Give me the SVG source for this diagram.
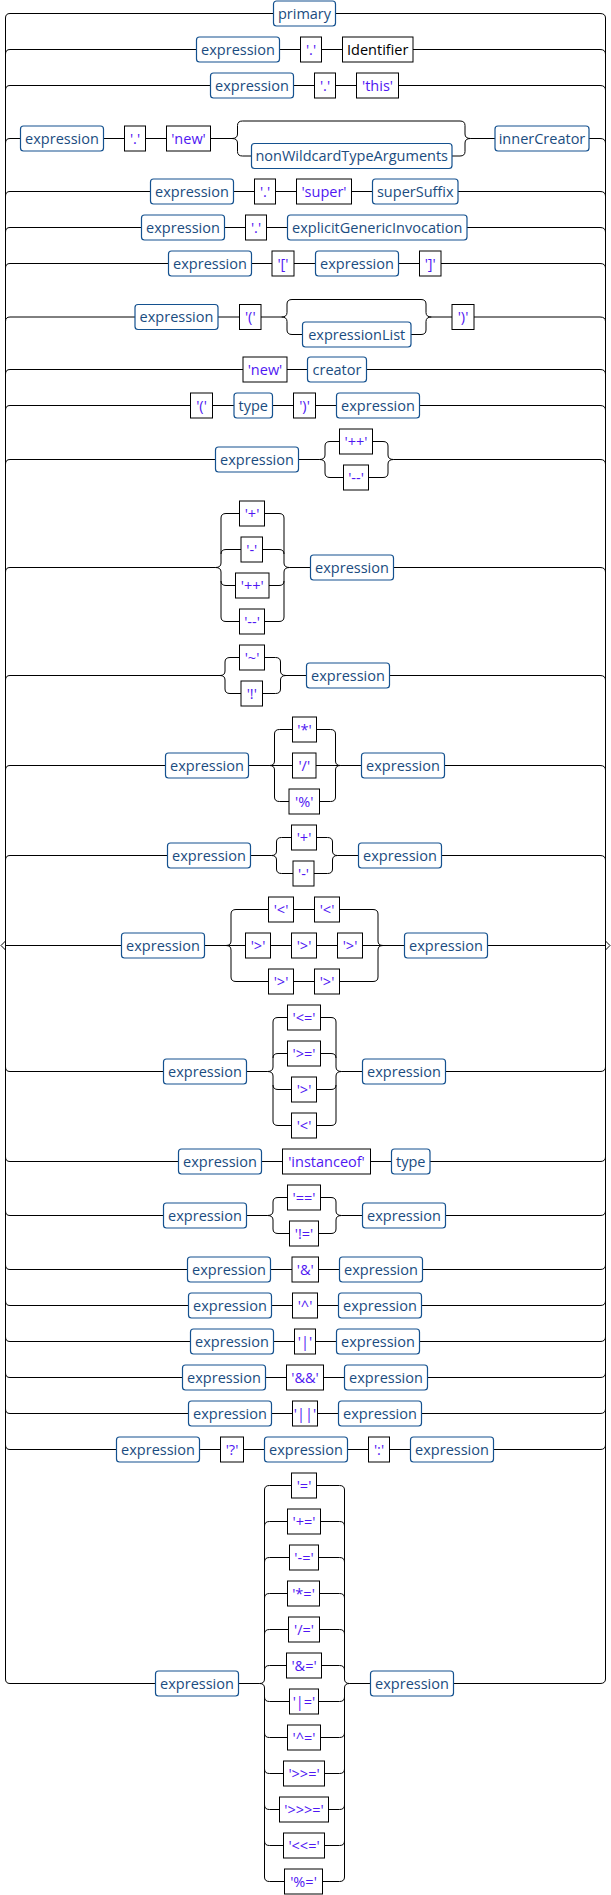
<svg xmlns="http://www.w3.org/2000/svg" width="611" height="1895" viewBox="0 0 611 1895">
<style>
.l{fill:none;stroke:#000;stroke-width:1}
.n rect{fill:#fff;stroke:#14518f;stroke-width:1.2}
.t rect,.k rect{fill:#fff;stroke:#000;stroke-width:1}
text{font-family:"Open Sans","Liberation Sans",sans-serif;font-size:14.5px;text-anchor:middle}
.n text{fill:#1a4c80}
.t text{fill:#4f17f2}
.k text{fill:#000}
</style>
<rect width="611" height="1895" fill="#fff"/>
<g id="connectors" class="l">
<path d="M5.5,18 V1679 M605.5,18 V1679"/>
<path d="M5.5,941 L1,945.5 L5.5,950 M605.5,941 L610,945.5 L605.5,950"/>
<path d="M5.5,18 Q5.5,13.5 10,13.5 H273.5 M335.5,13.5 H600 Q605.5,13.5 605.5,18"/>
<path d="M5.5,54 Q5.5,49.5 10,49.5 H196.5 M279.5,49.5 H300.5 M321.5,49.5 H342.5 M413,49.5 H600 Q605.5,49.5 605.5,54"/>
<path d="M5.5,90 Q5.5,85.5 10,85.5 H210.5 M293.5,85.5 H314.5 M335.5,85.5 H356.5 M398.5,85.5 H600 Q605.5,85.5 605.5,90"/>
<path d="M5.5,143 Q5.5,138.5 10,138.5 H20.5 M103.5,138.5 H124.5 M145.5,138.5 H166.5 M210.5,138.5 H232 M470.5,138.5 H495 M589,138.5 H600 Q605.5,138.5 605.5,143"/>
<path d="M232,138.5 Q237.5,138.5 237.5,134 V125.5 Q237.5,121 242.5,121 H460 Q465,121 465,125.5 V134 Q465,138.5 470.5,138.5"/>
<path d="M232,138.5 Q237.5,138.5 237.5,143 V151.5 Q237.5,156 242.5,156 H251.5 M452,156 H460 Q465,156 465,151.5 V143 Q465,138.5 470.5,138.5"/>
<path d="M5.5,196 Q5.5,191.5 10,191.5 H150.5 M233.5,191.5 H254.5 M275.5,191.5 H296.5 M351.5,191.5 H372.5 M458,191.5 H600 Q605.5,191.5 605.5,196"/>
<path d="M5.5,232 Q5.5,227.5 10,227.5 H141.5 M224.5,227.5 H245.5 M266.5,227.5 H287.5 M467,227.5 H600 Q605.5,227.5 605.5,232"/>
<path d="M5.5,268 Q5.5,263.5 10,263.5 H168.5 M251.5,263.5 H272 M294,263.5 H315.5 M398.5,263.5 H419.5 M441,263.5 H600 Q605.5,263.5 605.5,268"/>
<path d="M5.5,321.5 Q5.5,317 10,317 H135 M218,317 H239.5 M261,317 H281.5 M431.5,317 H452 M474,317 H600 Q605.5,317 605.5,321.5"/>
<path d="M281.5,317 Q287,317 287,312.5 V304 Q287,299.5 292,299.5 H421 Q426,299.5 426,304 V312.5 Q426,317 431.5,317"/>
<path d="M281.5,317 Q287,317 287,321.5 V330 Q287,334.5 292,334.5 H302.5 M411,334.5 H421 Q426,334.5 426,330 V321.5 Q426,317 431.5,317"/>
<path d="M5.5,374 Q5.5,369.5 10,369.5 H243 M287,369.5 H307.5 M366.5,369.5 H600 Q605.5,369.5 605.5,374"/>
<path d="M5.5,410 Q5.5,405.5 10,405.5 H190.5 M212.5,405.5 H234 M272.5,405.5 H293.5 M315.5,405.5 H336.5 M419.5,405.5 H600 Q605.5,405.5 605.5,410"/>
<path d="M5.5,464 Q5.5,459.5 10,459.5 H215.5 M298.5,459.5 H319.5 M393.5,459.5 H600 Q605.5,459.5 605.5,464"/>
<path d="M319.5,459.5 Q325,459.5 325,455 V446 Q325,441.5 330,441.5 H339.5 M372.5,441.5 H383 Q388,441.5 388,446 V455 Q388,459.5 393.5,459.5"/>
<path d="M319.5,459.5 Q325,459.5 325,464 V473 Q325,477.5 330,477.5 H343.5 M368.5,477.5 H383 Q388,477.5 388,473 V464 Q388,459.5 393.5,459.5"/>
<path d="M5.5,572 Q5.5,567.5 10,567.5 H215.5 M289.5,567.5 H310.5 M393.5,567.5 H600 Q605.5,567.5 605.5,572"/>
<path d="M215.5,567.5 Q221,567.5 221,563 V518 Q221,513.5 226,513.5 H239.5 M264.5,513.5 H279 Q284,513.5 284,518 V563 Q284,567.5 289.5,567.5"/>
<path d="M221,554 Q221,549.5 226,549.5 H241 M262.5,549.5 H279 Q284,549.5 284,554"/>
<path d="M215.5,567.5 Q221,567.5 221,572 V581 Q221,585.5 226,585.5 H235.5 M269,585.5 H279 Q284,585.5 284,581 V572 Q284,567.5 289.5,567.5"/>
<path d="M221,581 V617 Q221,621.5 226,621.5 H239.5 M264.5,621.5 H279 Q284,621.5 284,617 V581"/>
<path d="M5.5,680 Q5.5,675.5 10,675.5 H220 M286,675.5 H306.5 M389.5,675.5 H600 Q605.5,675.5 605.5,680"/>
<path d="M220,675.5 Q225,675.5 225,671 V662 Q225,657.5 230,657.5 H239.5 M264.5,657.5 H275.5 Q280.5,657.5 280.5,662 V671 Q280.5,675.5 286,675.5"/>
<path d="M220,675.5 Q225,675.5 225,680 V689 Q225,693.5 230,693.5 H241 M262.5,693.5 H275.5 Q280.5,693.5 280.5,689 V680 Q280.5,675.5 286,675.5"/>
<path d="M5.5,770 Q5.5,765.5 10,765.5 H165.5 M248.5,765.5 H269.5 M340.5,765.5 H361.5 M444.5,765.5 H600 Q605.5,765.5 605.5,770"/>
<path d="M269.5,765.5 Q274.5,765.5 274.5,761 V734 Q274.5,729.5 279.5,729.5 H292.5 M316.5,729.5 H330.5 Q335.5,729.5 335.5,734 V761 Q335.5,765.5 340.5,765.5"/>
<path d="M269.5,765.5 H292.5 M316,765.5 H340.5"/>
<path d="M269.5,765.5 Q274.5,765.5 274.5,770 V797 Q274.5,801.5 279.5,801.5 H289 M319.5,801.5 H330.5 Q335.5,801.5 335.5,797 V770 Q335.5,765.5 340.5,765.5"/>
<path d="M5.5,860 Q5.5,855.5 10,855.5 H167.5 M250.5,855.5 H271.5 M337.5,855.5 H358.5 M441.5,855.5 H600 Q605.5,855.5 605.5,860"/>
<path d="M271.5,855.5 Q276.5,855.5 276.5,851 V842 Q276.5,837.5 281.5,837.5 H291.5 M316.5,837.5 H327.5 Q332.5,837.5 332.5,842 V851 Q332.5,855.5 337.5,855.5"/>
<path d="M271.5,855.5 Q276.5,855.5 276.5,860 V869 Q276.5,873.5 281.5,873.5 H293 M314,873.5 H327.5 Q332.5,873.5 332.5,869 V860 Q332.5,855.5 337.5,855.5"/>
<path d="M5.5,945.5 H121.5 M204.5,945.5 H226 M383,945.5 H404.5 M487.5,945.5 H605.5"/>
<path d="M226,945.5 Q231,945.5 231,941 V914 Q231,909.5 236,909.5 H268.5 M293.5,909.5 H314.5 M339.5,909.5 H373 Q378,909.5 378,914 V941 Q378,945.5 383,945.5"/>
<path d="M226,945.5 H245.5 M270.5,945.5 H291.5 M316.5,945.5 H337.5 M362.5,945.5 H383"/>
<path d="M226,945.5 Q231,945.5 231,950 V977 Q231,981.5 236,981.5 H268.5 M293.5,981.5 H314.5 M339.5,981.5 H373 Q378,981.5 378,977 V950 Q378,945.5 383,945.5"/>
<path d="M5.5,1067 Q5.5,1071.5 10,1071.5 H163.5 M246.5,1071.5 H267.5 M341.5,1071.5 H362.5 M445.5,1071.5 H600 Q605.5,1071.5 605.5,1067"/>
<path d="M267.5,1071.5 Q273,1071.5 273,1067 V1022 Q273,1017.5 278,1017.5 H287.5 M320.5,1017.5 H331 Q336,1017.5 336,1022 V1067 Q336,1071.5 341.5,1071.5"/>
<path d="M273,1058 Q273,1053.5 278,1053.5 H287.5 M320.5,1053.5 H331 Q336,1053.5 336,1058"/>
<path d="M267.5,1071.5 Q273,1071.5 273,1076 V1085 Q273,1089.5 278,1089.5 H291.5 M316.5,1089.5 H331 Q336,1089.5 336,1085 V1076 Q336,1071.5 341.5,1071.5"/>
<path d="M273,1085 V1121 Q273,1125.5 278,1125.5 H291.5 M316.5,1125.5 H331 Q336,1125.5 336,1121 V1085"/>
<path d="M5.5,1157 Q5.5,1161.5 10,1161.5 H178.5 M261.5,1161.5 H282.5 M370.5,1161.5 H391.5 M430,1161.5 H600 Q605.5,1161.5 605.5,1157"/>
<path d="M5.5,1211 Q5.5,1215.5 10,1215.5 H163.5 M246.5,1215.5 H267.5 M341.5,1215.5 H362.5 M445.5,1215.5 H600 Q605.5,1215.5 605.5,1211"/>
<path d="M267.5,1215.5 Q273,1215.5 273,1211 V1202 Q273,1197.5 278,1197.5 H287.5 M320.5,1197.5 H331 Q336,1197.5 336,1202 V1211 Q336,1215.5 341.5,1215.5"/>
<path d="M267.5,1215.5 Q273,1215.5 273,1220 V1229 Q273,1233.5 278,1233.5 H289.5 M318.5,1233.5 H331 Q336,1233.5 336,1229 V1220 Q336,1215.5 341.5,1215.5"/>
<path d="M5.5,1265 Q5.5,1269.5 10,1269.5 H187.5 M270.5,1269.5 H292 M318.5,1269.5 H339.5 M422.5,1269.5 H600 Q605.5,1269.5 605.5,1265"/>
<path d="M5.5,1301 Q5.5,1305.5 10,1305.5 H188.5 M271.5,1305.5 H292.5 M317.5,1305.5 H338.5 M421.5,1305.5 H600 Q605.5,1305.5 605.5,1301"/>
<path d="M5.5,1337 Q5.5,1341.5 10,1341.5 H190.5 M273.5,1341.5 H294.5 M315.5,1341.5 H336.5 M419.5,1341.5 H600 Q605.5,1341.5 605.5,1337"/>
<path d="M5.5,1373 Q5.5,1377.5 10,1377.5 H182.5 M265.5,1377.5 H286.5 M323.5,1377.5 H344.5 M427.5,1377.5 H600 Q605.5,1377.5 605.5,1373"/>
<path d="M5.5,1409 Q5.5,1413.5 10,1413.5 H188.5 M271.5,1413.5 H292.5 M317.5,1413.5 H338.5 M421.5,1413.5 H600 Q605.5,1413.5 605.5,1409"/>
<path d="M5.5,1445 Q5.5,1449.5 10,1449.5 H116.5 M199.5,1449.5 H220.5 M243.5,1449.5 H264.5 M347.5,1449.5 H368.5 M389.5,1449.5 H410.5 M493.5,1449.5 H600 Q605.5,1449.5 605.5,1445"/>
<path d="M5.5,1679 Q5.5,1683.5 10,1683.5 H155.5 M238.5,1683.5 H259.5 M349.5,1683.5 H370.5 M453.5,1683.5 H600 Q605.5,1683.5 605.5,1679"/>
<path d="M259.5,1683.5 Q264.5,1683.5 264.5,1679 V1490 Q264.5,1485.5 269.5,1485.5 H291.5 M316.5,1485.5 H339.5 Q344.5,1485.5 344.5,1490 V1679 Q344.5,1683.5 349.5,1683.5"/>
<path d="M259.5,1683.5 Q264.5,1683.5 264.5,1688 V1877 Q264.5,1881.5 269.5,1881.5 H284.5 M322.5,1881.5 H339.5 Q344.5,1881.5 344.5,1877 V1688 Q344.5,1683.5 349.5,1683.5"/>
<path d="M264.5,1526 Q264.5,1521.5 269.5,1521.5 H287.5 M320.5,1521.5 H339.5 Q344.5,1521.5 344.5,1526"/>
<path d="M264.5,1562 Q264.5,1557.5 269.5,1557.5 H289.5 M318.5,1557.5 H339.5 Q344.5,1557.5 344.5,1562"/>
<path d="M264.5,1598 Q264.5,1593.5 269.5,1593.5 H287.5 M319.5,1593.5 H339.5 Q344.5,1593.5 344.5,1598"/>
<path d="M264.5,1634 Q264.5,1629.5 269.5,1629.5 H288.5 M319.5,1629.5 H339.5 Q344.5,1629.5 344.5,1634"/>
<path d="M264.5,1670 Q264.5,1665.5 269.5,1665.5 H286.5 M321.5,1665.5 H339.5 Q344.5,1665.5 344.5,1670"/>
<path d="M264.5,1697 Q264.5,1701.5 269.5,1701.5 H289.5 M318.5,1701.5 H339.5 Q344.5,1701.5 344.5,1697"/>
<path d="M264.5,1733 Q264.5,1737.5 269.5,1737.5 H287.5 M320.5,1737.5 H339.5 Q344.5,1737.5 344.5,1733"/>
<path d="M264.5,1769 Q264.5,1773.5 269.5,1773.5 H283.5 M324.5,1773.5 H339.5 Q344.5,1773.5 344.5,1769"/>
<path d="M264.5,1805 Q264.5,1809.5 269.5,1809.5 H279.5 M328.5,1809.5 H339.5 Q344.5,1809.5 344.5,1805"/>
<path d="M264.5,1841 Q264.5,1845.5 269.5,1845.5 H283.5 M324.5,1845.5 H339.5 Q344.5,1845.5 344.5,1841"/>
</g>
<g id="r1-primary" class="n"><rect x="273.5" y="1" width="62" height="25" rx="3"/><text x="304.5" y="18.5">primary</text></g>
<g id="r2-expression" class="n"><rect x="196.5" y="37" width="83" height="25" rx="3"/><text x="238" y="54.5">expression</text></g>
<g id="r2-dot" class="t"><rect x="300.5" y="37" width="21" height="25"/><text x="311" y="54.5">'.'</text></g>
<g id="r2-identifier" class="k"><rect x="342.5" y="37" width="70.5" height="25"/><text x="377.75" y="54.5">Identifier</text></g>
<g id="r3-expression" class="n"><rect x="210.5" y="73" width="83" height="25" rx="3"/><text x="252" y="90.5">expression</text></g>
<g id="r3-dot" class="t"><rect x="314.5" y="73" width="21" height="25"/><text x="325" y="90.5">'.'</text></g>
<g id="r3-this" class="t"><rect x="356.5" y="73" width="42" height="25"/><text x="377.5" y="90.5">'this'</text></g>
<g id="r4-expression" class="n"><rect x="20.5" y="126" width="83" height="25" rx="3"/><text x="62" y="143.5">expression</text></g>
<g id="r4-dot" class="t"><rect x="124.5" y="126" width="21" height="25"/><text x="135" y="143.5">'.'</text></g>
<g id="r4-new" class="t"><rect x="166.5" y="126" width="44" height="25"/><text x="188.5" y="143.5">'new'</text></g>
<g id="r4-nonWildcardTypeArguments" class="n"><rect x="251.5" y="143.5" width="200.5" height="25" rx="3"/><text x="351.75" y="161">nonWildcardTypeArguments</text></g>
<g id="r4-innerCreator" class="n"><rect x="495" y="126" width="94" height="25" rx="3"/><text x="542" y="143.5">innerCreator</text></g>
<g id="r5-expression" class="n"><rect x="150.5" y="179" width="83" height="25" rx="3"/><text x="192" y="196.5">expression</text></g>
<g id="r5-dot" class="t"><rect x="254.5" y="179" width="21" height="25"/><text x="265" y="196.5">'.'</text></g>
<g id="r5-super" class="t"><rect x="296.5" y="179" width="55" height="25"/><text x="324" y="196.5">'super'</text></g>
<g id="r5-superSuffix" class="n"><rect x="372.5" y="179" width="85.5" height="25" rx="3"/><text x="415.25" y="196.5">superSuffix</text></g>
<g id="r6-expression" class="n"><rect x="141.5" y="215" width="83" height="25" rx="3"/><text x="183" y="232.5">expression</text></g>
<g id="r6-dot" class="t"><rect x="245.5" y="215" width="21" height="25"/><text x="256" y="232.5">'.'</text></g>
<g id="r6-explicitGenericInvocation" class="n"><rect x="287.5" y="215" width="179.5" height="25" rx="3"/><text x="377.25" y="232.5">explicitGenericInvocation</text></g>
<g id="r7-expression" class="n"><rect x="168.5" y="251" width="83" height="25" rx="3"/><text x="210" y="268.5">expression</text></g>
<g id="r7-lbracket" class="t"><rect x="272" y="251" width="22" height="25"/><text x="283" y="268.5">'['</text></g>
<g id="r7-expression2" class="n"><rect x="315.5" y="251" width="83" height="25" rx="3"/><text x="357" y="268.5">expression</text></g>
<g id="r7-rbracket" class="t"><rect x="419.5" y="251" width="21.5" height="25"/><text x="430.25" y="268.5">']'</text></g>
<g id="r8-expression" class="n"><rect x="135" y="304.5" width="83" height="25" rx="3"/><text x="176.5" y="322">expression</text></g>
<g id="r8-lparen" class="t"><rect x="239.5" y="304.5" width="21.5" height="25"/><text x="250.25" y="322">'('</text></g>
<g id="r8-expressionList" class="n"><rect x="302.5" y="322" width="108.5" height="25" rx="3"/><text x="356.75" y="339.5">expressionList</text></g>
<g id="r8-rparen" class="t"><rect x="452" y="304.5" width="22" height="25"/><text x="463" y="322">')'</text></g>
<g id="r9-new" class="t"><rect x="243" y="357" width="44" height="25"/><text x="265" y="374.5">'new'</text></g>
<g id="r9-creator" class="n"><rect x="307.5" y="357" width="59" height="25" rx="3"/><text x="337" y="374.5">creator</text></g>
<g id="r10-lparen" class="t"><rect x="190.5" y="393" width="22" height="25"/><text x="201.5" y="410.5">'('</text></g>
<g id="r10-type" class="n"><rect x="234" y="393" width="38.5" height="25" rx="3"/><text x="253.25" y="410.5">type</text></g>
<g id="r10-rparen" class="t"><rect x="293.5" y="393" width="22" height="25"/><text x="304.5" y="410.5">')'</text></g>
<g id="r10-expression" class="n"><rect x="336.5" y="393" width="83" height="25" rx="3"/><text x="378" y="410.5">expression</text></g>
<g id="r11-expression" class="n"><rect x="215.5" y="447" width="83" height="25" rx="3"/><text x="257" y="464.5">expression</text></g>
<g id="r11-incr" class="t"><rect x="339.5" y="429" width="33" height="25"/><text x="356" y="446.5">'++'</text></g>
<g id="r11-decr" class="t"><rect x="343.5" y="465" width="25" height="25"/><text x="356" y="482.5">'--'</text></g>
<g id="r12-plus" class="t"><rect x="239.5" y="501" width="25" height="25"/><text x="252" y="518.5">'+'</text></g>
<g id="r12-minus" class="t"><rect x="241" y="537" width="21.5" height="25"/><text x="251.75" y="554.5">'-'</text></g>
<g id="r12-incr" class="t"><rect x="235.5" y="573" width="33.5" height="25"/><text x="252.25" y="590.5">'++'</text></g>
<g id="r12-decr" class="t"><rect x="239.5" y="609" width="25" height="25"/><text x="252" y="626.5">'--'</text></g>
<g id="r12-expression" class="n"><rect x="310.5" y="555" width="83" height="25" rx="3"/><text x="352" y="572.5">expression</text></g>
<g id="r13-tilde" class="t"><rect x="239.5" y="645" width="25" height="25"/><text x="252" y="662.5">'~'</text></g>
<g id="r13-bang" class="t"><rect x="241" y="681" width="21.5" height="25"/><text x="251.75" y="698.5">'!'</text></g>
<g id="r13-expression" class="n"><rect x="306.5" y="663" width="83" height="25" rx="3"/><text x="348" y="680.5">expression</text></g>
<g id="r14-expression" class="n"><rect x="165.5" y="753" width="83" height="25" rx="3"/><text x="207" y="770.5">expression</text></g>
<g id="r14-star" class="t"><rect x="292.5" y="717" width="24" height="25"/><text x="304.5" y="734.5">'*'</text></g>
<g id="r14-slash" class="t"><rect x="292.5" y="753" width="23.5" height="25"/><text x="304.25" y="770.5">'/'</text></g>
<g id="r14-percent" class="t"><rect x="289" y="789" width="30.5" height="25"/><text x="304.25" y="806.5">'%'</text></g>
<g id="r14-expression2" class="n"><rect x="361.5" y="753" width="83" height="25" rx="3"/><text x="403" y="770.5">expression</text></g>
<g id="r15-expression" class="n"><rect x="167.5" y="843" width="83" height="25" rx="3"/><text x="209" y="860.5">expression</text></g>
<g id="r15-plus" class="t"><rect x="291.5" y="825" width="25" height="25"/><text x="304" y="842.5">'+'</text></g>
<g id="r15-minus" class="t"><rect x="293" y="861" width="21" height="25"/><text x="303.5" y="878.5">'-'</text></g>
<g id="r15-expression2" class="n"><rect x="358.5" y="843" width="83" height="25" rx="3"/><text x="400" y="860.5">expression</text></g>
<g id="r16-expression" class="n"><rect x="121.5" y="933" width="83" height="25" rx="3"/><text x="163" y="950.5">expression</text></g>
<g id="r16-lt1" class="t"><rect x="268.5" y="897" width="25" height="25"/><text x="281" y="914.5">'&lt;'</text></g>
<g id="r16-lt2" class="t"><rect x="314.5" y="897" width="25" height="25"/><text x="327" y="914.5">'&lt;'</text></g>
<g id="r16-gt1" class="t"><rect x="245.5" y="933" width="25" height="25"/><text x="258" y="950.5">'&gt;'</text></g>
<g id="r16-gt2" class="t"><rect x="291.5" y="933" width="25" height="25"/><text x="304" y="950.5">'&gt;'</text></g>
<g id="r16-gt3" class="t"><rect x="337.5" y="933" width="25" height="25"/><text x="350" y="950.5">'&gt;'</text></g>
<g id="r16-gt4" class="t"><rect x="268.5" y="969" width="25" height="25"/><text x="281" y="986.5">'&gt;'</text></g>
<g id="r16-gt5" class="t"><rect x="314.5" y="969" width="25" height="25"/><text x="327" y="986.5">'&gt;'</text></g>
<g id="r16-expression2" class="n"><rect x="404.5" y="933" width="83" height="25" rx="3"/><text x="446" y="950.5">expression</text></g>
<g id="r17-expression" class="n"><rect x="163.5" y="1059" width="83" height="25" rx="3"/><text x="205" y="1076.5">expression</text></g>
<g id="r17-le" class="t"><rect x="287.5" y="1005" width="33" height="25"/><text x="304" y="1022.5">'&lt;='</text></g>
<g id="r17-ge" class="t"><rect x="287.5" y="1041" width="33" height="25"/><text x="304" y="1058.5">'&gt;='</text></g>
<g id="r17-gt" class="t"><rect x="291.5" y="1077" width="25" height="25"/><text x="304" y="1094.5">'&gt;'</text></g>
<g id="r17-lt" class="t"><rect x="291.5" y="1113" width="25" height="25"/><text x="304" y="1130.5">'&lt;'</text></g>
<g id="r17-expression2" class="n"><rect x="362.5" y="1059" width="83" height="25" rx="3"/><text x="404" y="1076.5">expression</text></g>
<g id="r18-expression" class="n"><rect x="178.5" y="1149" width="83" height="25" rx="3"/><text x="220" y="1166.5">expression</text></g>
<g id="r18-instanceof" class="t"><rect x="282.5" y="1149" width="88" height="25"/><text x="326.5" y="1166.5">'instanceof'</text></g>
<g id="r18-type" class="n"><rect x="391.5" y="1149" width="38.5" height="25" rx="3"/><text x="410.75" y="1166.5">type</text></g>
<g id="r19-expression" class="n"><rect x="163.5" y="1203" width="83" height="25" rx="3"/><text x="205" y="1220.5">expression</text></g>
<g id="r19-eq" class="t"><rect x="287.5" y="1185" width="33" height="25"/><text x="304" y="1202.5">'=='</text></g>
<g id="r19-ne" class="t"><rect x="289.5" y="1221" width="29" height="25"/><text x="304" y="1238.5">'!='</text></g>
<g id="r19-expression2" class="n"><rect x="362.5" y="1203" width="83" height="25" rx="3"/><text x="404" y="1220.5">expression</text></g>
<g id="r20-expression" class="n"><rect x="187.5" y="1257" width="83" height="25" rx="3"/><text x="229" y="1274.5">expression</text></g>
<g id="r20-and" class="t"><rect x="292" y="1257" width="26.5" height="25"/><text x="305.25" y="1274.5">'&amp;'</text></g>
<g id="r20-expression2" class="n"><rect x="339.5" y="1257" width="83" height="25" rx="3"/><text x="381" y="1274.5">expression</text></g>
<g id="r21-expression" class="n"><rect x="188.5" y="1293" width="83" height="25" rx="3"/><text x="230" y="1310.5">expression</text></g>
<g id="r21-xor" class="t"><rect x="292.5" y="1293" width="25" height="25"/><text x="305" y="1310.5">'^'</text></g>
<g id="r21-expression2" class="n"><rect x="338.5" y="1293" width="83" height="25" rx="3"/><text x="380" y="1310.5">expression</text></g>
<g id="r22-expression" class="n"><rect x="190.5" y="1329" width="83" height="25" rx="3"/><text x="232" y="1346.5">expression</text></g>
<g id="r22-or" class="t"><rect x="294.5" y="1329" width="21" height="25"/><text x="305" y="1346.5">'|'</text></g>
<g id="r22-expression2" class="n"><rect x="336.5" y="1329" width="83" height="25" rx="3"/><text x="378" y="1346.5">expression</text></g>
<g id="r23-expression" class="n"><rect x="182.5" y="1365" width="83" height="25" rx="3"/><text x="224" y="1382.5">expression</text></g>
<g id="r23-andand" class="t"><rect x="286.5" y="1365" width="37" height="25"/><text x="305" y="1382.5">'&amp;&amp;'</text></g>
<g id="r23-expression2" class="n"><rect x="344.5" y="1365" width="83" height="25" rx="3"/><text x="386" y="1382.5">expression</text></g>
<g id="r24-expression" class="n"><rect x="188.5" y="1401" width="83" height="25" rx="3"/><text x="230" y="1418.5">expression</text></g>
<g id="r24-oror" class="t"><rect x="292.5" y="1401" width="25" height="25"/><text x="305" y="1418.5">'||'</text></g>
<g id="r24-expression2" class="n"><rect x="338.5" y="1401" width="83" height="25" rx="3"/><text x="380" y="1418.5">expression</text></g>
<g id="r25-expression" class="n"><rect x="116.5" y="1437" width="83" height="25" rx="3"/><text x="158" y="1454.5">expression</text></g>
<g id="r25-question" class="t"><rect x="220.5" y="1437" width="23" height="25"/><text x="232" y="1454.5">'?'</text></g>
<g id="r25-expression2" class="n"><rect x="264.5" y="1437" width="83" height="25" rx="3"/><text x="306" y="1454.5">expression</text></g>
<g id="r25-colon" class="t"><rect x="368.5" y="1437" width="21" height="25"/><text x="379" y="1454.5">':'</text></g>
<g id="r25-expression3" class="n"><rect x="410.5" y="1437" width="83" height="25" rx="3"/><text x="452" y="1454.5">expression</text></g>
<g id="r26-expression" class="n"><rect x="155.5" y="1671" width="83" height="25" rx="3"/><text x="197" y="1688.5">expression</text></g>
<g id="r26-assign" class="t"><rect x="291.5" y="1473" width="25" height="25"/><text x="304" y="1490.5">'='</text></g>
<g id="r26-addassign" class="t"><rect x="287.5" y="1509" width="33" height="25"/><text x="304" y="1526.5">'+='</text></g>
<g id="r26-subassign" class="t"><rect x="289.5" y="1545" width="29" height="25"/><text x="304" y="1562.5">'-='</text></g>
<g id="r26-mulassign" class="t"><rect x="287.5" y="1581" width="32" height="25"/><text x="303.5" y="1598.5">'*='</text></g>
<g id="r26-divassign" class="t"><rect x="288.5" y="1617" width="31" height="25"/><text x="304" y="1634.5">'/='</text></g>
<g id="r26-andassign" class="t"><rect x="286.5" y="1653" width="35" height="25"/><text x="304" y="1670.5">'&amp;='</text></g>
<g id="r26-orassign" class="t"><rect x="289.5" y="1689" width="29" height="25"/><text x="304" y="1706.5">'|='</text></g>
<g id="r26-xorassign" class="t"><rect x="287.5" y="1725" width="33" height="25"/><text x="304" y="1742.5">'^='</text></g>
<g id="r26-shrassign" class="t"><rect x="283.5" y="1761" width="41" height="25"/><text x="304" y="1778.5">'&gt;&gt;='</text></g>
<g id="r26-ushrassign" class="t"><rect x="279.5" y="1797" width="49" height="25"/><text x="304" y="1814.5">'&gt;&gt;&gt;='</text></g>
<g id="r26-shlassign" class="t"><rect x="283.5" y="1833" width="41" height="25"/><text x="304" y="1850.5">'&lt;&lt;='</text></g>
<g id="r26-modassign" class="t"><rect x="284.5" y="1869" width="38" height="25"/><text x="303.5" y="1886.5">'%='</text></g>
<g id="r26-expression2" class="n"><rect x="370.5" y="1671" width="83" height="25" rx="3"/><text x="412" y="1688.5">expression</text></g>
</svg>
